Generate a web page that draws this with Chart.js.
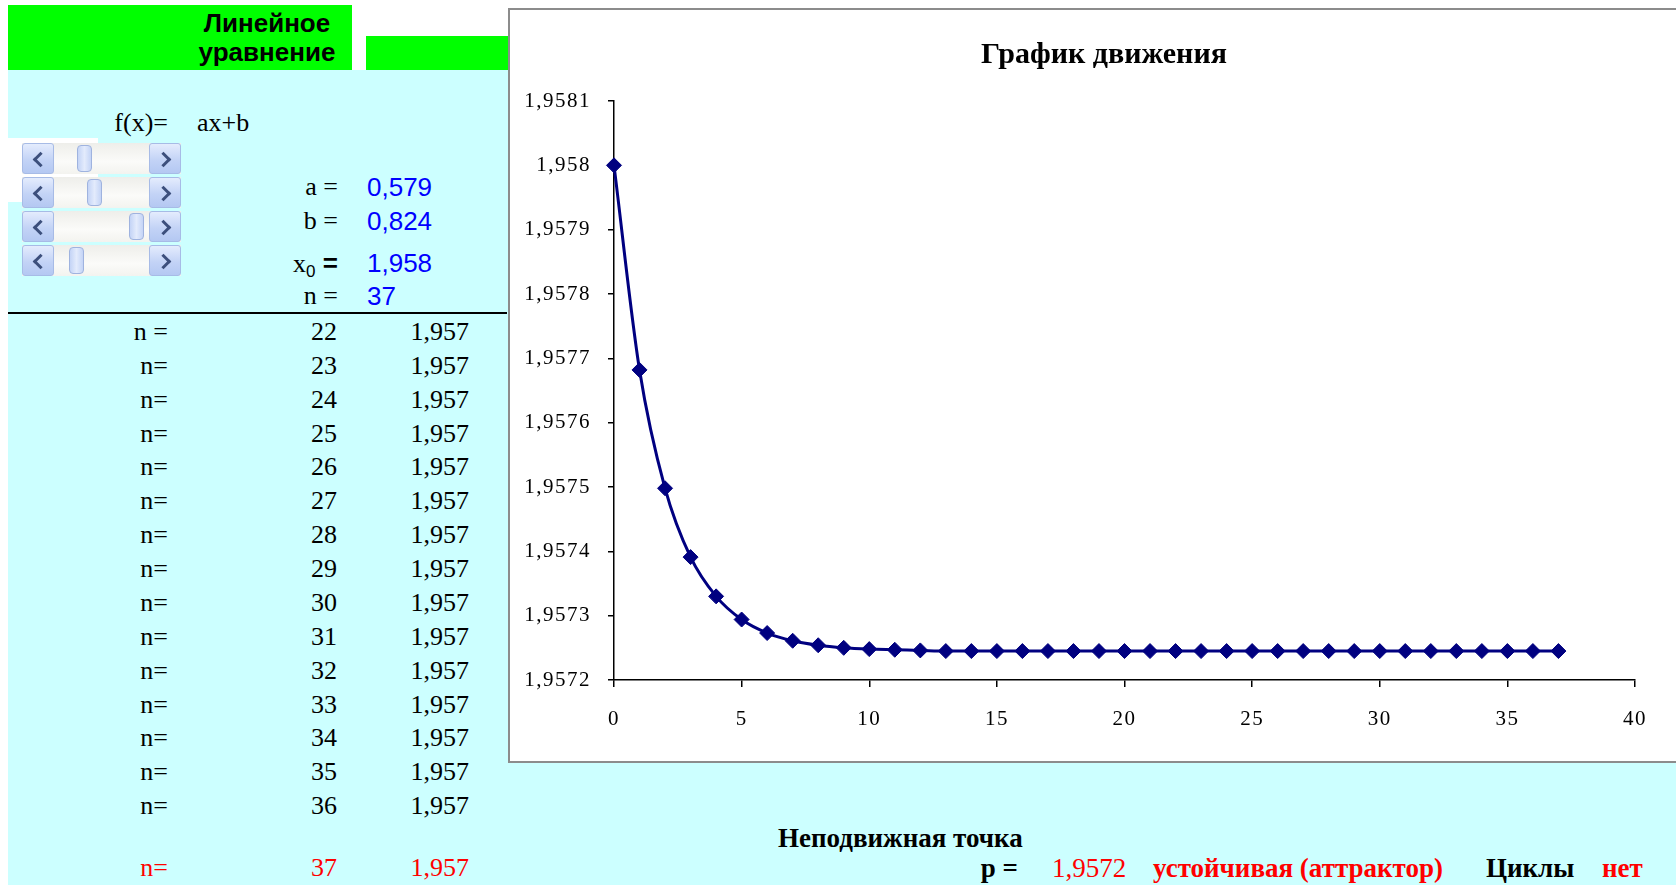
<!DOCTYPE html>
<html>
<head>
<meta charset="utf-8">
<script src="https://cdn.jsdelivr.net/npm/chart.js@4.4.1/dist/chart.umd.min.js"></script>
<style>
  html, body { margin: 0; padding: 0; background: #fff; width: 1676px; height: 885px; overflow: hidden; position: relative; }
  .blk { position: absolute; box-sizing: border-box; }
  .t { position: absolute; white-space: nowrap; }
  .sb { position: absolute; left: 22px; width: 159px; height: 31px; background: linear-gradient(#eeeeea, #fbfbf9 60%, #f3f3ef); }
  .btn { position: absolute; top: 0; width: 32px; height: 31px; box-sizing: border-box; border: 1px solid #a7bbe6; border-radius: 3px; background: linear-gradient(#e4ecfd, #c3d3f6 55%, #b4c8f2); }
  .btn::after { content: ""; position: absolute; top: 10px; width: 8px; height: 8px; border-left: 3px solid #3c4f7c; border-bottom: 3px solid #3c4f7c; }
  .btn.l { left: 0; }
  .btn.l::after { left: 12px; transform: rotate(45deg); }
  .btn.r { right: 0; }
  .btn.r::after { left: 8px; transform: rotate(-135deg); }
  .thumb { position: absolute; top: 2px; width: 15px; height: 27px; box-sizing: border-box; border: 1px solid #9fb3df; border-radius: 4px; background: linear-gradient(90deg, #c4d4f6, #e3ebfc 50%, #c4d4f6); }
  sub { font-family: "Liberation Sans", Arial, sans-serif; font-size: 17px; line-height: 0; vertical-align: -5px; }
</style>
</head>
<body>
<!-- sheet background blocks -->
<div class="blk" style="left:8px;top:5px;width:344px;height:65px;background:#00ff00"></div>
<div class="blk" style="left:366px;top:36px;width:142px;height:34px;background:#00ff00"></div>
<div class="blk" style="left:8px;top:70px;width:500px;height:815px;background:#ccffff"></div>
<div class="blk" style="left:8px;top:138px;width:90px;height:64px;background:#fff"></div>
<div class="blk" style="left:508px;top:763px;width:1168px;height:122px;background:#ccffff"></div>
<div class="blk" style="left:8px;top:312px;width:499px;height:2px;background:#000"></div>

<!-- chart frame -->
<div class="blk" style="left:508px;top:8px;width:1300px;height:755px;background:#fff;border:2px solid #8c8c8c"></div>
<canvas id="chart" width="1166" height="751" style="position:absolute;left:510px;top:10px;width:1166px;height:751px"></canvas>

<div id="labels"></div>

<script>
// Iteration x(n+1) = a*x(n) + b
const eqA = 0.579;
const eqB = 0.824;
const fixedPoint = 1.9572;

// step numbers n and the iterate values x(n)
const steps = [0, 1, 2, 3, 4, 5, 6, 7, 8, 9, 10, 11, 12, 13, 14, 15, 16, 17, 18, 19,
               20, 21, 22, 23, 24, 25, 26, 27, 28, 29, 30, 31, 32, 33, 34, 35, 36, 37];
const xn = [1.958, 1.957682, 1.957498, 1.957391, 1.95733, 1.957294, 1.957273, 1.957261,
            1.957254, 1.95725, 1.957248, 1.957247, 1.957246, 1.957245, 1.957245, 1.957245,
            1.957245, 1.957245, 1.957245, 1.957245, 1.957245, 1.957245, 1.957245, 1.957245,
            1.957245, 1.957245, 1.957245, 1.957245, 1.957245, 1.957245, 1.957245, 1.957245,
            1.957245, 1.957245, 1.957245, 1.957245, 1.957245, 1.957245];

// axis ticks
const xTicks = [0, 5, 10, 15, 20, 25, 30, 35, 40];
const yTicks = [1.9572, 1.9573, 1.9574, 1.9575, 1.9576, 1.9577, 1.9578, 1.9579, 1.958, 1.9581];

// rows listed in the table below the parameters
const tableSteps = [22, 23, 24, 25, 26, 27, 28, 29, 30, 31, 32, 33, 34, 35, 36];
const lastStep = 37;

const ru = (v, d) => v.toFixed(d).replace('.', ',');
const tickText = v => String(+v.toFixed(4)).replace('.', ',');

// ---------- text helper (positions by baseline) ----------
const host = document.getElementById('labels');
function put(html, x, base, o = {}) {
  const size = o.size || 26;
  const sans = o.font === 'sans';
  const el = document.createElement('div');
  el.className = 't';
  el.innerHTML = html;
  el.style.fontFamily = sans ? '"Liberation Sans", Arial, sans-serif' : '"Liberation Serif", "Times New Roman", serif';
  el.style.fontSize = size + 'px';
  el.style.lineHeight = size + 'px';
  el.style.fontWeight = o.bold ? 'bold' : 'normal';
  el.style.color = o.color || '#000';
  el.style.top = (base - (sans ? 0.8465 : 0.8375) * size) + 'px';
  if (o.align === 'right') el.style.right = (1676 - x) + 'px';
  else if (o.align === 'center') { el.style.left = x + 'px'; el.style.transform = 'translateX(-50%)'; }
  else el.style.left = x + 'px';
  host.appendChild(el);
  return el;
}

// header
put('Линейное', 267, 32, { font: 'sans', bold: true, align: 'center' });
put('уравнение', 267, 61, { font: 'sans', bold: true, align: 'center' });

// formula and parameters
put('f(x)=', 168, 132, { align: 'right' });
put('ax+b', 197, 132);
const blue = '#0000ff';
put('a =', 338, 196, { align: 'right' });
put(ru(eqA, 3), 367, 196, { font: 'sans', color: blue });
put('b =', 338, 230, { align: 'right' });
put(ru(eqB, 3), 367, 230, { font: 'sans', color: blue });
put('x<sub>0</sub><b style="font-family:\'Liberation Sans\',Arial,sans-serif"> =</b>', 338, 272, { align: 'right' });
put(ru(xn[0], 3), 367, 272, { font: 'sans', color: blue });
put('n =', 338, 305, { align: 'right' });
put(String(lastStep), 367, 305, { font: 'sans', color: blue });

// scroll bars
const thumbs = [55, 65, 107, 47];
const sbTops = [143, 177, 211, 245];
sbTops.forEach((top, i) => {
  const sb = document.createElement('div');
  sb.className = 'sb';
  sb.style.top = top + 'px';
  sb.innerHTML = '<div class="btn l"></div><div class="thumb" style="left:' + thumbs[i] + 'px"></div><div class="btn r"></div>';
  document.body.appendChild(sb);
});

// table of iterates
tableSteps.forEach((n, i) => {
  const base = 340.7 + i * 33.88;
  put(i === 0 ? 'n =' : 'n=', 168, base, { align: 'right' });
  put(String(n), 337, base, { align: 'right' });
  put(ru(xn[n], 3), 469, base, { align: 'right' });
});
const red = '#ff0000';
put('n=', 168, 877, { align: 'right', color: red });
put(String(lastStep), 337, 877, { align: 'right', color: red });
put(ru(xn[lastStep], 3), 469, 877, { align: 'right', color: red });

// fixed point summary
put('Неподвижная точка', 778, 848, { bold: true, size: 27 });
put('p =', 1018, 878, { bold: true, align: 'right', size: 27 });
put(ru(fixedPoint, 4), 1052, 878, { color: red, size: 27 });
put('устойчивая (аттрактор)', 1153, 878, { bold: true, color: red, size: 27 });
put('Циклы', 1486, 878, { bold: true, size: 27 });
put('нет', 1602, 878, { bold: true, color: red, size: 27 });

// chart title
put('График движения', 1104, 63, { bold: true, size: 30, align: 'center' });

// ---------- chart ----------
const tickFont = { family: '"Liberation Serif", "Times New Roman", serif', size: 21 };
const spacedTicks = {
  id: 'spacedTicks',
  beforeDraw(c) { c.ctx.letterSpacing = '1.5px'; },
  afterDraw(c) { c.ctx.letterSpacing = '0px'; }
};

new Chart(document.getElementById('chart'), {
  type: 'line',
  data: {
    datasets: [{
      data: steps.map((n, i) => ({ x: n, y: xn[i] })),
      borderColor: '#000080',
      backgroundColor: '#000080',
      borderWidth: 3,
      pointStyle: 'rectRot',
      pointRadius: 7.5,
      pointHoverRadius: 7.5,
      pointBorderWidth: 1,
      cubicInterpolationMode: 'monotone',
      fill: false,
      clip: false
    }]
  },
  options: {
    responsive: false,
    animation: false,
    devicePixelRatio: 1,
    events: [],
    layout: { padding: { top: 91, right: 41, bottom: 0, left: 0 } },
    plugins: { legend: { display: false }, tooltip: { enabled: false }, title: { display: false } },
    scales: {
      x: {
        type: 'linear',
        min: 0,
        max: 40,
        afterBuildTicks: s => { s.ticks = xTicks.map(v => ({ value: v })); },
        afterFit: s => { s.height = 81; },
        grid: { display: true, drawOnChartArea: false, drawTicks: true, tickLength: 7, color: '#000', lineWidth: 1.5 },
        border: { display: true, color: '#000', width: 1.5 },
        ticks: { color: '#000', font: tickFont, padding: 20, maxRotation: 0, autoSkip: false, callback: v => String(v) }
      },
      y: {
        type: 'linear',
        min: yTicks[0],
        max: yTicks[yTicks.length - 1],
        afterBuildTicks: s => { s.ticks = yTicks.map(v => ({ value: v })); },
        afterFit: s => { s.width = 104; },
        grid: { display: true, drawOnChartArea: false, drawTicks: true, tickLength: 6, color: '#000', lineWidth: 1.5 },
        border: { display: true, color: '#000', width: 1.5 },
        ticks: { color: '#000', font: tickFont, padding: 17, autoSkip: false, callback: v => tickText(v) }
      }
    }
  },
  plugins: [spacedTicks]
});
</script>
</body>
</html>
